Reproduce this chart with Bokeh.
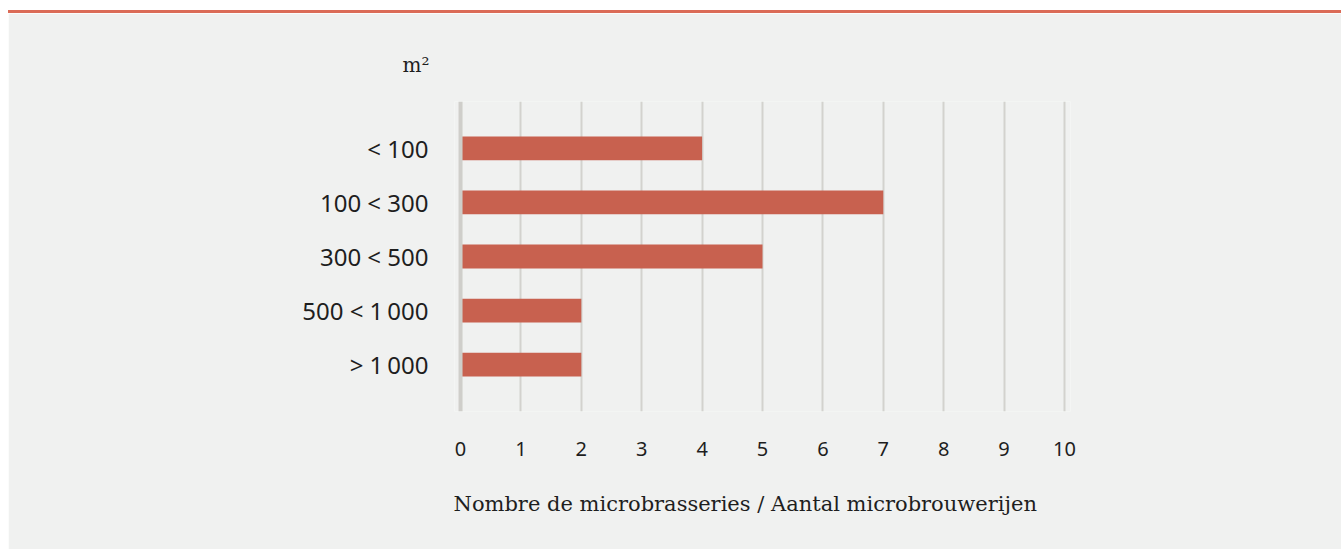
from bokeh.plotting import figure
from bokeh.models import (FactorRange, Range1d, FixedTicker, Span, Title, Div,
                          ColumnDataSource)
from bokeh.layouts import column
from bokeh.embed import file_html
from bokeh.resources import INLINE

# ---- data ----
categories = ["< 100", "100 < 300", "300 < 500", "500 < 1\u2009000", "> 1\u2009000"]
counts = [4, 7, 5, 2, 2]
x_ticks = [0, 1, 2, 3, 4, 5, 6, 7, 8, 9, 10]
x_title = "Nombre de microbrasseries / Aantal microbrouwerijen"
y_title = "m\u00b2"

BG = "#f0f1f0"
BAR = "#c8614f"
RED = "#db6b57"
GRID = "#d3d2ce"
TXT = "#1e1e1e"

factors = list(reversed(categories))
src = ColumnDataSource(dict(cat=categories, val=counts))

p = figure(width=1333, height=536, output_backend="svg", toolbar_location=None,
           y_range=FactorRange(factors=factors, range_padding=0.148),
           x_range=Range1d(-0.1, 10.1),
           min_border_left=446, min_border_right=271,
           min_border_top=88, min_border_bottom=138)
p.background_fill_color = BG
p.border_fill_color = BG
p.outline_line_color = None

p.hbar(y="cat", right="val", left=0, height=0.44, source=src,
       fill_color=BAR, line_color=None)

p.xaxis.ticker = FixedTicker(ticks=x_ticks)
p.xaxis.axis_line_color = None
p.xaxis.major_tick_line_color = None
p.xaxis.minor_tick_line_color = None
p.xaxis.major_label_standoff = 24
p.xaxis.major_label_text_font = "Noto Sans"
p.xaxis.major_label_text_font_size = "20px"
p.xaxis.major_label_text_color = TXT

p.yaxis.axis_line_color = None
p.yaxis.major_tick_line_color = None
p.yaxis.minor_tick_line_color = None
p.yaxis.major_label_standoff = 20
p.yaxis.major_label_text_font = "Noto Sans"
p.yaxis.major_label_text_font_size = "24px"
p.yaxis.major_label_text_color = TXT

p.ygrid.grid_line_color = None
p.xgrid.ticker = FixedTicker(ticks=x_ticks[1:])
p.xgrid.grid_line_color = GRID
p.xgrid.grid_line_width = 2

p.add_layout(Span(location=0, dimension="height", line_color="#cfceca", line_width=4))

p.add_layout(Title(text=x_title, align="left", offset=-1, standoff=62,
                   text_font="DejaVu Serif", text_font_size="21px",
                   text_font_style="normal", text_color=TXT), "below")
p.add_layout(Title(text=y_title, align="left", offset=-52, standoff=50,
                   text_font="DejaVu Serif", text_font_size="20px",
                   text_font_style="normal", text_color=TXT), "above")

top = Div(text="", width=1333, height=3, margin=(2, 0, 0, 0),
          styles={"background-color": RED})

layout = column(top, p, spacing=0, margin=(8, 0, 0, 8))
open("out.html", "w").write(file_html(layout, INLINE))
